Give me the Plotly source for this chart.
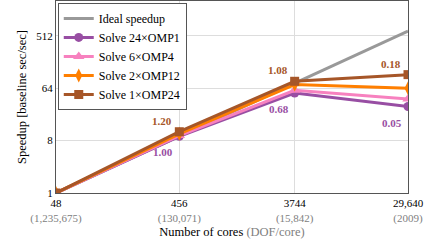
import plotly.graph_objects as go
import math

cores = [48, 456, 3744, 29640]
cores_labels = ["48", "456", "3744", "29,640"]
dof_labels = ["(1,235,675)", "(130,071)", "(15,842)", "(2009)"]

ideal = [1, 456/48, 3744/48, 29640/48]
s24x1 = [1, 9.5, 53, 31]
s6x4 = [1, 9.8, 59, 42]
s2x12 = [1, 10.5, 74, 64]
s1x24 = [1, 11.4, 84.5, 110]

eff_top = ["1.20", "1.08", "0.18"]
eff_bot = ["1.00", "0.68", "0.05"]

yticks = [1, 8, 64, 512]

FONT = "Liberation Serif"
GRAY = "#999999"
PURPLE = "#984ea3"
PINK = "#f781bf"
ORANGE = "#ff7f00"
BROWN = "#a65628"

fig = go.Figure()
fig.add_trace(go.Scatter(x=cores, y=ideal, mode="lines", name="Ideal speedup",
                         line=dict(color=GRAY, width=3)))
fig.add_trace(go.Scatter(x=cores, y=s24x1, mode="lines+markers", name="Solve 24×OMP1",
                         line=dict(color=PURPLE, width=3), marker=dict(symbol="circle", size=9)))
fig.add_trace(go.Scatter(x=cores, y=s6x4, mode="lines+markers", name="Solve 6×OMP4",
                         line=dict(color=PINK, width=3), marker=dict(symbol="triangle-up", size=10)))
fig.add_trace(go.Scatter(x=cores, y=s2x12, mode="lines+markers", name="Solve 2×OMP12",
                         line=dict(color=ORANGE, width=3), marker=dict(symbol="diamond-tall", size=10)))
fig.add_trace(go.Scatter(x=cores, y=s1x24, mode="lines+markers", name="Solve 1×OMP24",
                         line=dict(color=BROWN, width=3), marker=dict(symbol="square", size=9)))

for i, t in enumerate(eff_top):
    fig.add_annotation(x=math.log10(cores[i+1]), y=math.log10(s1x24[i+1]), text="<b>%s</b>" % t,
                       showarrow=False, xshift=-17, yshift=11,
                       font=dict(family=FONT, size=11, color=BROWN))
for i, t in enumerate(eff_bot):
    fig.add_annotation(x=math.log10(cores[i+1]), y=math.log10(s24x1[i+1]), text="<b>%s</b>" % t,
                       showarrow=False, xshift=-16, yshift=-16,
                       font=dict(family=FONT, size=11, color=PURPLE))

ticktext = ["%s<br><span style='color:#808080'>%s</span>" % (a, b) for a, b in zip(cores_labels, dof_labels)]

fig.update_layout(
    width=428, height=247,
    margin=dict(l=56, r=20, t=1, b=54),
    paper_bgcolor="white", plot_bgcolor="white",
    font=dict(family=FONT, size=11, color="black"),
    showlegend=True,
    legend=dict(x=0.005, y=0.99, xanchor="left", yanchor="top",
                bgcolor="white", bordercolor="#555555", borderwidth=1,
                font=dict(family=FONT, size=12), tracegroupgap=0,
                itemwidth=30),
    xaxis=dict(type="log", range=[math.log10(48), math.log10(29640)],
               tickvals=cores, ticktext=ticktext, showgrid=True, gridcolor="#dddddd",
               showline=True, linecolor="#555555", linewidth=1, mirror=True, ticks="", ticklen=0,
               ticklabeloverflow="allow",
               zeroline=False, tickfont=dict(size=11),
               title=dict(text="Number of cores <span style='color:#808080'>(DOF/core)</span>",
                          font=dict(size=12.5), standoff=3)),
    yaxis=dict(type="log", range=[0, math.log10(2048)],
               tickvals=yticks, ticktext=[str(v) for v in yticks], showgrid=True, gridcolor="#dddddd",
               showline=True, linecolor="#555555", linewidth=1, mirror=True, ticks="", ticklen=0,
               zeroline=False, tickfont=dict(size=11),
               title=dict(text="Speedup [baseline sec/sec]", font=dict(size=12.5), standoff=6)),
)

fig.write_html("out.html", config={"displayModeBar": False},
               post_script="document.body.style.margin='0';")
